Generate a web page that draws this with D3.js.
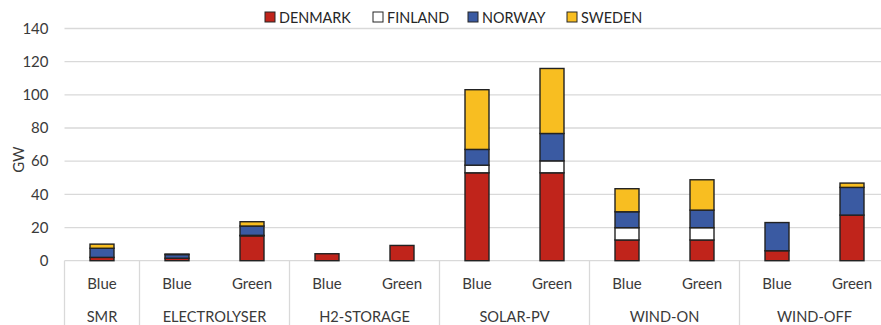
<!DOCTYPE html>
<html>
<head>
<meta charset="utf-8">
<script src="https://cdn.jsdelivr.net/npm/d3@7"></script>
<style>
  html, body { margin: 0; padding: 0; background: #fff; }
  svg { display: block; font-family: Lato, "Open Sans", sans-serif; }
</style>
</head>
<body>
<svg id="chart" width="881" height="325"></svg>
<script>
// Technology groups and the scenarios within each
const groups = ["SMR", "ELECTROLYSER", "H2-STORAGE", "SOLAR-PV", "WIND-ON", "WIND-OFF"];
const scenarios = [["Blue"], ["Blue", "Green"], ["Blue", "Green"], ["Blue", "Green"], ["Blue", "Green"], ["Blue", "Green"]];

const countries = ["DENMARK", "FINLAND", "NORWAY", "SWEDEN"];
const colors = ["#C0241B", "#FFFFFF", "#3A5AA2", "#F8BE21"];

// Installed capacity (GW) per bar, in bar order
const denmark = [2.0, 1.5, 15.0, 4.2, 9.2, 53.0, 53.0, 12.5, 12.5, 6.0, 27.5];
const finland = [0.0, 0.0, 0.3, 0.0, 0.0, 4.6, 7.2, 7.4, 7.4, 0.0, 0.0];
const norway  = [5.5, 2.2, 5.6, 0.0, 0.0, 9.5, 16.5, 9.6, 10.6, 17.0, 16.7];
const sweden  = [2.5, 0.3, 2.6, 0.0, 0.0, 36.0, 39.2, 13.9, 18.3, 0.0, 2.6];

const yTicks = [0, 20, 40, 60, 80, 100, 120, 140];

(function () {
  // Flatten groups into individual bars
  const bars = [];
  groups.forEach((g, gi) => scenarios[gi].forEach(s => bars.push({ group: g, scenario: s, key: g + "|" + s })));
  bars.forEach((b, i) => {
    b.DENMARK = denmark[i]; b.FINLAND = finland[i]; b.NORWAY = norway[i]; b.SWEDEN = sweden[i];
  });

  const svg = d3.select("#chart");
  const plotLeft = 64.5, plotRight = 889.5, plotTop = 28.5, baseline = 260.7, plotBottom = 325;

  const x = d3.scaleBand().domain(bars.map(b => b.key)).range([plotLeft, plotRight])
    .paddingInner(0.68).paddingOuter(0.34);
  const y = d3.scaleLinear().domain([0, 140]).range([baseline, plotTop]);

  // Horizontal gridlines
  svg.append("g").selectAll("line").data(yTicks).join("line")
    .attr("x1", plotLeft).attr("x2", 881)
    .attr("y1", d => y(d)).attr("y2", d => y(d))
    .attr("stroke", "#d9d9d9").attr("stroke-width", 1.3);

  // Y axis labels
  const yAxis = svg.append("g").attr("transform", `translate(${plotLeft - 16},0)`)
    .call(d3.axisLeft(y).tickValues(yTicks).tickSize(0).tickPadding(0));
  yAxis.select(".domain").remove();
  yAxis.selectAll("text").attr("font-size", 15).attr("fill", "#3a3a3a")
    .attr("font-family", "Lato, 'Open Sans', sans-serif");

  svg.append("text").attr("transform", `translate(24,${(plotTop + baseline) / 2 + 15}) rotate(-90)`)
    .attr("text-anchor", "middle").attr("font-size", 15).attr("fill", "#3a3a3a").text("GW");

  // Stacked bars
  const series = d3.stack().keys(countries)(bars);
  svg.append("g").selectAll("g").data(series).join("g")
    .attr("fill", (d, i) => colors[i])
    .selectAll("rect").data(d => d.filter(p => p[1] - p[0] > 0)).join("rect")
    .attr("x", d => x(d.data.key))
    .attr("width", x.bandwidth())
    .attr("y", d => y(d[1]))
    .attr("height", d => y(d[0]) - y(d[1]))
    .attr("stroke", "#222").attr("stroke-width", 1.4);

  // Category axis: scenario labels, group labels, separators
  const step = x.step();
  const xa = svg.append("g");
  xa.selectAll("text.scen").data(bars).join("text").attr("class", "scen")
    .attr("x", d => x(d.key) + x.bandwidth() / 2).attr("y", 289)
    .attr("text-anchor", "middle").attr("font-size", 15).attr("fill", "#3a3a3a")
    .text(d => d.scenario);

  let pos = 0;
  const spans = groups.map((g, gi) => {
    const n = scenarios[gi].length;
    const s = { group: g, x0: plotLeft + pos * step, x1: plotLeft + (pos + n) * step };
    pos += n;
    return s;
  });
  xa.selectAll("text.grp").data(spans).join("text").attr("class", "grp")
    .attr("x", d => (d.x0 + d.x1) / 2).attr("y", 322)
    .attr("text-anchor", "middle").attr("font-size", 14.6).attr("fill", "#3a3a3a")
    .text(d => d.group);
  xa.selectAll("line").data(spans).join("line")
    .attr("x1", d => d.x0).attr("x2", d => d.x0)
    .attr("y1", baseline).attr("y2", plotBottom)
    .attr("stroke", "#d9d9d9").attr("stroke-width", 1.3);

  // Legend
  const legendX = [265, 373, 468, 567];
  const lg = svg.append("g").selectAll("g").data(countries).join("g")
    .attr("transform", (d, i) => `translate(${legendX[i]},12)`);
  lg.append("rect").attr("width", 10).attr("height", 10)
    .attr("fill", (d, i) => colors[i]).attr("stroke", "#262626").attr("stroke-width", 1);
  lg.append("text").attr("x", 14).attr("y", 10.5).attr("font-size", 14.4).attr("fill", "#262626").text(d => d);
})();
</script>
</body>
</html>
